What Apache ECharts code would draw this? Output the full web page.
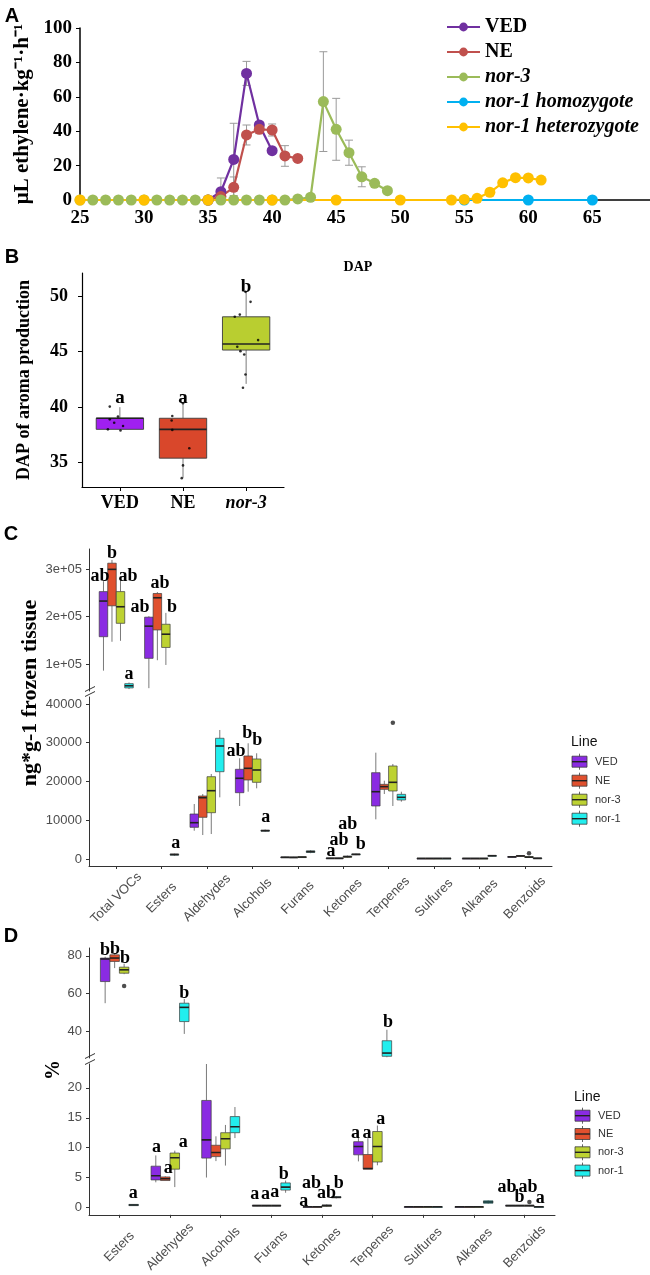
<!DOCTYPE html>
<html><head><meta charset="utf-8">
<script src="https://cdn.jsdelivr.net/npm/echarts@6/dist/echarts.min.js"></script>
<style>html,body{margin:0;padding:0;background:#fff}#c{width:650px;height:1275px}</style>
</head><body><div id="c"></div>
<script>
// ================= Panel A data =================
const A_xTicks = [25,30,35,40,45,50,55,60,65];
const A_yTicks = [0,20,40,60,80,100];
const A_VED_days = [35,36,37,38,39,40];
const A_VED_vals = [0,4.8,23.6,73.6,43.6,28.7];
const A_VED_err  = [0,8,21,7,2,0];
const A_NE_days = [35,36,37,38,39,40,41,42];
const A_NE_vals = [0,2,7.4,37.8,41.1,40.7,25.6,24.2];
const A_NE_err  = [0,2,6,5.8,2.5,3.5,6,0];
const A_N3_days = [25,26,27,28,29,30,31,32,33,34,35,36,37,38,39,40,41,42,43,44,45,46,47,48,49];
const A_N3_vals = [0,0,0,0,0,0,0,0,0,0,0,0,0,0,0,0,0,0.6,1.6,57.2,41.1,27.5,13.5,9.7,5.4];
const A_N3_err  = [0,0,0,0,0,0,0,0,0,0,0,0,0,0,0,0,0,0,0,29,18,7.3,5.8,1.5,0];
const A_HOM_days = [55,60,65];
const A_HOM_vals = [0,0,0];
const A_HET_days = [25,30,35,40,45,50,54,55,56,57,58,59,60,61];
const A_HET_vals = [0,0,0,0,0,0,0,0.3,1,4.5,10,13,12.8,11.6];

// ================= Panel B data =================
const B_cats = ['VED','NE','nor-3'];
const B_yTicks = [35,40,45,50];
const B_box = [[38,38,39,39,40],[33.6,35.4,38,39,40.3],[42.1,45.15,45.7,48.15,50.4]];
const B_pts_VED = [40.05,39.15,38.9,38.6,38.3,38.0,37.9];
const B_jit_VED = [-0.16,-0.03,-0.16,-0.09,0.05,-0.19,0.01];
const B_pts_NE = [40.35,39.2,38.8,37.95,36.3,34.75,33.6];
const B_jit_NE = [0,-0.17,-0.18,-0.17,0.10,0,-0.02];
const B_pts_N3 = [50.4,49.5,48.35,48.15,46.05,45.45,45.05,44.75,42.95,41.75];
const B_jit_N3 = [-0.01,0.07,-0.10,-0.18,0.19,-0.14,-0.09,-0.03,-0.01,-0.05];
const B_letters = ['a','a','b'];
const B_letterY = [40.83,40.83,50.83];

// ================= Panel C data (ng*g-1) =================
const LINES = ['VED','NE','nor-3','nor-1'];
const C_cats = ['Total VOCs','Esters','Aldehydes','Alcohols','Furans','Ketones','Terpenes','Sulfures','Alkanes','Benzoids'];
const C_topTicks = [100000,200000,300000];
const C_botTicks = [0,10000,20000,30000,40000];
const C_VED = [[86000,157700,233000,253000,275000],[49000,112000,180000,199000,201000],[7300,8180,9370,11610,14190],[13680,17110,20830,23150,25990],[300,380,450,520,600],[100,150,200,250,300],[10240,13680,17370,22270,27440],[100,130,160,190,220],[100,130,160,190,220],[400,480,560,640,720]];
const C_NE  = [[147000,223000,300000,313000,320000],[108000,172000,240000,249000,252000],[6190,10760,15820,16260,16770],[17370,20390,23400,26580,29860],[300,370,430,490,560],[100,150,200,250,300],[16770,17980,18670,19270,20210],[100,130,160,190,220],[100,130,160,190,220],[600,700,800,880,950]];
const C_N3  = [[149000,186000,221000,253000,281000],[98000,135000,163000,184000,208000],[6450,11950,17630,21240,21940],[18240,19790,22970,25810,27280],[350,420,500,580,650],[300,450,600,750,900],[13680,17550,19790,24000,24520],[100,130,160,190,220],[100,130,160,190,220],[300,400,500,600,700]];
const C_N1  = [[47000,49500,54000,58500,61000],[800,1000,1150,1300,1400],[15920,22530,29160,31150,33290],[7050,7200,7300,7450,7600],[1500,1700,1900,2100,2300],[1000,1100,1200,1300,1400],[14790,15230,15920,16690,17370],[100,130,160,190,220],[700,780,850,920,1000],[100,150,200,250,300]];
const C_outliers = [[7,2,35170],[10,2,1470]];
const C_letters_top = [[0.642,284500,'ab'],[0.907,334500,'b'],[1.259,284500,'ab'],[1.281,78900,'a'],[1.523,220400,'ab'],[1.964,271200,'ab'],[2.228,220400,'b']];
const C_letters_bot = [[2.310,4050,'a'],[3.638,27870,'ab'],[3.887,32440,'b'],[4.107,30530,'b'],[4.292,10660,'a'],[5.730,1880,'a'],[5.907,4900,'ab'],[6.098,8950,'ab'],[6.385,3870,'b']];

// ================= Panel D data (%) =================
const D_cats = ['Esters','Aldehydes','Alcohols','Furans','Ketones','Terpenes','Sulfures','Alkanes','Benzoids'];
const D_topTicks = [40,60,80];
const D_botTicks = [0,5,10,15,20];
const D_VED = [[55,66.4,78.3,78.8,79.5],[4.2,4.6,5.3,6.9,8.7],[5.0,8.25,11.3,17.9,25.5],[0.2,0.25,0.3,0.35,0.4],[0.05,0.08,0.1,0.12,0.15],[7.7,8.8,10.2,11.0,11.7],[0.05,0.08,0.1,0.12,0.15],[0.05,0.08,0.1,0.12,0.15],[0.2,0.25,0.3,0.35,0.4]];
const D_NE  = [[73.5,77,78.8,80.5,81.5],[4.5,4.5,4.8,5.1,5.2],[7.75,8.5,9.2,10.4,11.9],[0.2,0.25,0.3,0.35,0.4],[0.05,0.08,0.1,0.12,0.15],[6.4,6.4,6.5,8.85,11.6],[0.05,0.08,0.1,0.12,0.15],[0.05,0.08,0.1,0.12,0.15],[0.2,0.25,0.3,0.35,0.4]];
const D_N3  = [[70.3,70.8,72.6,74,75.8],[3.4,6.4,8.3,9.1,9.5],[7.0,9.8,11.5,12.5,13.8],[0.2,0.25,0.3,0.35,0.4],[0.1,0.2,0.3,0.4,0.5],[7.05,7.6,10.2,12.7,13.7],[0.05,0.08,0.1,0.12,0.15],[0.05,0.08,0.1,0.12,0.15],[0.2,0.25,0.3,0.35,0.4]];
const D_N1  = [[0.25,0.3,0.4,0.5,0.55],[38.8,45.3,52.8,55.0,57.2],[11.6,12.5,13.5,15.2,16.8],[2.45,2.9,3.4,4.1,4.5],[1.5,1.6,1.7,1.8,1.9],[26.5,27.0,28.7,35.2,41.0],[0.05,0.08,0.1,0.12,0.15],[0.6,0.7,0.9,1.1,1.2],[0.05,0.08,0.1,0.12,0.15]];
const D_outliers = [[1,2,64.1],[9,2,0.9]];
const D_letters_top = [[0.716,82.8,'b'],[0.913,83.5,'b'],[1.110,78.4,'b'],[2.280,60.3,'b'],[6.303,44.8,'b']];
const D_letters_bot = [[1.274,2.28,'a'],[1.735,10.05,'a'],[1.964,6.51,'a'],[2.260,10.86,'a'],[3.674,2.18,'a'],[3.885,2.23,'a'],[4.069,2.44,'a'],[4.246,5.54,'b'],[4.641,1.09,'a'],[4.793,3.97,'ab'],[5.088,2.28,'ab'],[5.331,3.97,'b'],[5.660,12.38,'a'],[5.889,12.38,'a'],[6.159,14.66,'a'],[8.650,3.42,'ab'],[9.065,3.42,'ab'],[8.901,1.63,'b'],[9.309,1.53,'a']];

// ================= styling =================
const SERIF = '"Liberation Serif","Times New Roman",serif';
const SANS = '"Liberation Sans",Arial,sans-serif';
const A_COL = ['#7030A0','#C0504D','#9BBB59','#00B0F0','#FFC000'];
const B_COL = ['#A020F0','#D9472B','#B9CE30'];
const BOX_COL = ['#8A2BE2','#E0502E','#BDD232','#22EEEE'];
const OFFS = [-0.28125,-0.09375,0.09375,0.28125];
const BW = 0.1875;

const chart = echarts.init(document.getElementById('c'), null, {renderer:'canvas'});

function pairs(xs, ys){ return xs.map((x,i)=>[x, ys[i]]); }
function triples(xs, ys, es){ return xs.map((x,i)=>[x, ys[i], es[i]]); }

function boxRender(bw, colors, thin){
  return function(params, api){
    const x = api.value(0), g = api.value(6);
    const lo = api.coord([x, api.value(1)]);
    const q1 = api.coord([x, api.value(2)]);
    const md = api.coord([x, api.value(3)]);
    const q3 = api.coord([x, api.value(4)]);
    const hi = api.coord([x, api.value(5)]);
    const L = api.coord([x - bw/2, api.value(3)])[0];
    const R = api.coord([x + bw/2, api.value(3)])[0];
    const wc = '#7a7a7a';
    return {type:'group', children:[
      {type:'line', shape:{x1:lo[0],y1:lo[1],x2:q1[0],y2:q1[1]}, style:{stroke:wc,lineWidth:1}},
      {type:'line', shape:{x1:q3[0],y1:q3[1],x2:hi[0],y2:hi[1]}, style:{stroke:wc,lineWidth:1}},
      {type:'rect', shape:{x:L,y:q3[1],width:R-L,height:Math.max(q1[1]-q3[1],0.8)}, style:{fill:colors[g],stroke:'#3c3c3c',lineWidth:thin}},
      {type:'line', shape:{x1:L,y1:md[1],x2:R,y2:md[1]}, style:{stroke:'#222',lineWidth:1.6}}
    ]};
  };
}
function buildBoxData(sets, ncat){
  const out = [];
  sets.forEach((s,g)=>{ for(let c=0;c<ncat;c++){ const v=s[c]; out.push([c+1+OFFS[g], v[0],v[1],v[2],v[3],v[4], g]); } });
  return out;
}
function letterSeries(idx, arr, size){
  return {type:'custom', xAxisIndex:idx, yAxisIndex:idx, z:10, silent:true,
    data: arr.map(a=>[a[0],a[1]]),
    renderItem:function(params, api){
      const p = api.coord([api.value(0), api.value(1)]);
      return {type:'text', x:p[0], y:p[1], style:{text:arr[params.dataIndex][2], font:'bold '+size+'px '+SERIF, fill:'#000', align:'center', verticalAlign:'middle'}};
    }};
}
function boxSeries(idx, data){
  return {type:'custom', xAxisIndex:idx, yAxisIndex:idx, clip:true, silent:true, data:data, encode:{x:0,y:3}, renderItem:boxRender(BW, BOX_COL, 0.7)};
}
function outlierSeries(idx, arr){
  return {type:'scatter', xAxisIndex:idx, yAxisIndex:idx, clip:true, silent:true, symbolSize:4.5, itemStyle:{color:'#222'},
    data: arr.map(o=>[o[0]+OFFS[o[1]], o[2]])};
}

const cData = buildBoxData([C_VED,C_NE,C_N3,C_N1], C_cats.length);
const dData = buildBoxData([D_VED,D_NE,D_N3,D_N1], D_cats.length);
const bData = B_box.map((v,i)=>[i+1, v[0],v[1],v[2],v[3],v[4], i]);

const tickLab = {fontFamily:SANS, fontSize:13, color:'#4D4D4D'};
function ggY(idx, min, max, ticks, fmt){
  return {gridIndex:idx, type:'value', min:min, max:max, splitLine:{show:false},
    axisLine:{show:true, lineStyle:{color:'#333', width:1}},
    axisTick:{show:true, length:3, customValues:ticks, lineStyle:{color:'#333'}},
    axisLabel:Object.assign({customValues:ticks, margin:7, formatter:fmt}, tickLab)};
}
function ggX(idx, max, cats, show){
  const vals = cats.map((c,i)=>i+1);
  if(!show) return {gridIndex:idx, type:'value', min:0.4, max:max, show:false};
  return {gridIndex:idx, type:'value', min:0.4, max:max, splitLine:{show:false},
    axisLine:{show:true, onZero:false, lineStyle:{color:'#333', width:1}},
    axisTick:{show:true, length:3, customValues:vals, lineStyle:{color:'#333'}},
    axisLabel:Object.assign({customValues:vals, rotate:45, align:'center', verticalAlign:'middle', margin:32,
      formatter:v=>cats[Math.round(v)-1]}, tickLab)};
}

function boxLegend(x, yTitle, yFirst, step){
  const els = [{type:'text', x:x-1, y:yTitle, style:{text:'Line', font:'14px '+SANS, fill:'#111', verticalAlign:'middle'}}];
  LINES.forEach((name,i)=>{
    const cy = yFirst + i*step;
    els.push({type:'line', shape:{x1:x+7.5,y1:cy-8,x2:x+7.5,y2:cy+8}, style:{stroke:'#666',lineWidth:1}});
    els.push({type:'rect', shape:{x:x,y:cy-5.5,width:15,height:11}, style:{fill:BOX_COL[i],stroke:'#3c3c3c',lineWidth:0.8}});
    els.push({type:'line', shape:{x1:x,y1:cy,x2:x+15,y2:cy}, style:{stroke:'#222',lineWidth:1.4}});
    els.push({type:'text', x:x+23, y:cy, style:{text:name, font:'11px '+SANS, fill:'#333', verticalAlign:'middle'}});
  });
  return els;
}
function slash(cx, cy){
  return {type:'line', shape:{x1:cx-5,y1:cy+2.5,x2:cx+5,y2:cy-2.5}, style:{stroke:'#333',lineWidth:1}};
}

const boldSerif = (s)=>({fontFamily:SERIF, fontWeight:'bold', fontSize:s, color:'#000'});

const option = {
  animation:false,
  backgroundColor:'#fff',
  grid:[
    {left:80, top:28, width:570, height:172},
    {left:82, top:273, width:202, height:214},
    {left:89, top:549, width:463, height:142},
    {left:89, top:697, width:463, height:169},
    {left:89, top:948, width:466, height:110},
    {left:89, top:1064, width:466, height:155}
  ],
  xAxis:[
    {gridIndex:0, type:'value', min:25, max:69.5, splitLine:{show:false},
      axisLine:{show:true, lineStyle:{color:'#000', width:1.5}}, axisTick:{show:false},
      axisLabel:Object.assign({customValues:A_xTicks, margin:9}, boldSerif(19))},
    {gridIndex:1, type:'value', min:0.4, max:3.6, splitLine:{show:false},
      axisLine:{show:true, onZero:false, lineStyle:{color:'#000', width:1.2}},
      axisTick:{show:true, length:4, customValues:[1,2,3], lineStyle:{color:'#000'}},
      axisLabel:Object.assign({customValues:[1,2,3], margin:7,
        formatter:v=>{const n=B_cats[Math.round(v)-1]; return n==='nor-3' ? '{i|'+n+'}' : n;},
        rich:{i:{fontStyle:'italic', fontWeight:'bold', fontFamily:SERIF, fontSize:18}}}, boldSerif(18))},
    ggX(2, 10.6, C_cats, false),
    ggX(3, 10.6, C_cats, true),
    ggX(4, 9.6, D_cats, false),
    ggX(5, 9.6, D_cats, true)
  ],
  yAxis:[
    {gridIndex:0, type:'value', min:0, max:100, interval:20, splitLine:{show:false},
      axisLine:{show:true, lineStyle:{color:'#000', width:1.5}},
      axisTick:{show:true, length:4, lineStyle:{color:'#000'}},
      axisLabel:Object.assign({margin:8}, boldSerif(19)),
      name:'μL ethylene·kg⁻¹·h⁻¹', nameLocation:'middle', nameGap:41, nameTextStyle:boldSerif(21)},
    {gridIndex:1, type:'value', min:32.8, max:52.1, splitLine:{show:false},
      axisLine:{show:true, lineStyle:{color:'#000', width:1.2}},
      axisTick:{show:true, length:4, customValues:B_yTicks, lineStyle:{color:'#000'}},
      axisLabel:Object.assign({customValues:B_yTicks, margin:14}, boldSerif(18)),
      name:'DAP of aroma production', nameLocation:'middle', nameGap:49, nameTextStyle:boldSerif(18)},
    ggY(2, 43000, 343000, C_topTicks, v=>(v/100000)+'e+05'),
    ggY(3, -1800, 41800, C_botTicks, v=>String(v)),
    ggY(4, 26.1, 84.1, D_topTicks, v=>String(v)),
    ggY(5, -1.24, 24.0, D_botTicks, v=>String(v))
  ],
  legend:[{
    orient:'vertical', left:446, top:17, padding:0, itemWidth:33, itemHeight:11, itemGap:5, selectedMode:false,
    textStyle:{fontFamily:SERIF, fontWeight:'bold', fontSize:20, color:'#000', lineHeight:20},
    data:[{name:'VED'},{name:'NE'},{name:'nor-3', textStyle:{fontStyle:'italic'}},
      {name:'nor-1 homozygote', textStyle:{fontStyle:'italic'}},{name:'nor-1 heterozygote', textStyle:{fontStyle:'italic'}}]
  }],
  series:[
    // ---- A error bars ----
    {type:'custom', xAxisIndex:0, yAxisIndex:0, z:1, clip:true, silent:true,
      data: triples(A_VED_days,A_VED_vals,A_VED_err).concat(triples(A_NE_days,A_NE_vals,A_NE_err), triples(A_N3_days,A_N3_vals,A_N3_err)),
      renderItem:function(params, api){
        const x=api.value(0), v=api.value(1), e=api.value(2);
        if(!e) return null;
        const t=api.coord([x,v+e]), b=api.coord([x,v-e]);
        const st={stroke:'#9a9a9a', lineWidth:1};
        return {type:'group', children:[
          {type:'line', shape:{x1:t[0],y1:t[1],x2:b[0],y2:b[1]}, style:st},
          {type:'line', shape:{x1:t[0]-4,y1:t[1],x2:t[0]+4,y2:t[1]}, style:st},
          {type:'line', shape:{x1:b[0]-4,y1:b[1],x2:b[0]+4,y2:b[1]}, style:st}]};
      }},
    // ---- A lines ----
    {name:'VED', type:'line', xAxisIndex:0, yAxisIndex:0, z:3, data:pairs(A_VED_days,A_VED_vals), symbol:'circle', symbolSize:11, color:A_COL[0], lineStyle:{width:2.2}},
    {name:'NE', type:'line', xAxisIndex:0, yAxisIndex:0, z:3, data:pairs(A_NE_days,A_NE_vals), symbol:'circle', symbolSize:11, color:A_COL[1], lineStyle:{width:2.2}},
    {name:'nor-3', type:'line', xAxisIndex:0, yAxisIndex:0, z:3, data:pairs(A_N3_days,A_N3_vals), symbol:'circle', symbolSize:11, color:A_COL[2], lineStyle:{width:2.2}},
    {name:'nor-1 homozygote', type:'line', xAxisIndex:0, yAxisIndex:0, z:3, data:pairs(A_HOM_days,A_HOM_vals), symbol:'circle', symbolSize:11, color:A_COL[3], lineStyle:{width:2.2}},
    {name:'nor-1 heterozygote', type:'line', xAxisIndex:0, yAxisIndex:0, z:3, data:pairs(A_HET_days,A_HET_vals), symbol:'circle', symbolSize:11, color:A_COL[4], lineStyle:{width:2.2}},
    // ---- B ----
    {type:'custom', xAxisIndex:1, yAxisIndex:1, silent:true, data:bData, encode:{x:0,y:3}, renderItem:boxRender(0.75, B_COL, 0.9)},
    {type:'scatter', xAxisIndex:1, yAxisIndex:1, silent:true, symbolSize:2.6, itemStyle:{color:'#000'}, z:5,
      data: B_pts_VED.map((v,i)=>[1+B_jit_VED[i], v]).concat(B_pts_NE.map((v,i)=>[2+B_jit_NE[i], v]), B_pts_N3.map((v,i)=>[3+B_jit_N3[i], v]))},
    letterSeries(1, B_letters.map((t,i)=>[i+1, B_letterY[i], t]), 19),
    // ---- C ----
    boxSeries(2, cData), boxSeries(3, cData),
    outlierSeries(2, C_outliers), outlierSeries(3, C_outliers),
    letterSeries(2, C_letters_top, 18), letterSeries(3, C_letters_bot, 18),
    // ---- D ----
    boxSeries(4, dData), boxSeries(5, dData),
    outlierSeries(4, D_outliers), outlierSeries(5, D_outliers),
    letterSeries(4, D_letters_top, 18), letterSeries(5, D_letters_bot, 18)
  ],
  graphic:[
    {type:'text', x:12, y:16, style:{text:'A', font:'bold 20px '+SANS, fill:'#000', align:'center', verticalAlign:'middle'}},
    {type:'text', x:12, y:257, style:{text:'B', font:'bold 20px '+SANS, fill:'#000', align:'center', verticalAlign:'middle'}},
    {type:'text', x:11, y:534, style:{text:'C', font:'bold 20px '+SANS, fill:'#000', align:'center', verticalAlign:'middle'}},
    {type:'text', x:11, y:936, style:{text:'D', font:'bold 20px '+SANS, fill:'#000', align:'center', verticalAlign:'middle'}},
    {type:'text', x:358, y:267, style:{text:'DAP', font:'bold 14px '+SERIF, fill:'#000', align:'center', verticalAlign:'middle'}},
    {type:'text', x:30, y:693, rotation:Math.PI/2, style:{text:'ng*g-1 frozen tissue', font:'bold 22px '+SERIF, fill:'#000', align:'center', verticalAlign:'middle'}},
    {type:'text', x:54, y:1070, rotation:Math.PI/2, style:{text:'%', font:'bold 20px '+SERIF, fill:'#000', align:'center', verticalAlign:'middle'}},
    slash(90, 689), slash(90, 694), slash(90, 1056), slash(90, 1062)
  ].concat(boxLegend(572, 741.7, 761.7, 19), boxLegend(575, 1096.7, 1115.7, 18.3))
};
chart.setOption(option);
</script></body></html>
